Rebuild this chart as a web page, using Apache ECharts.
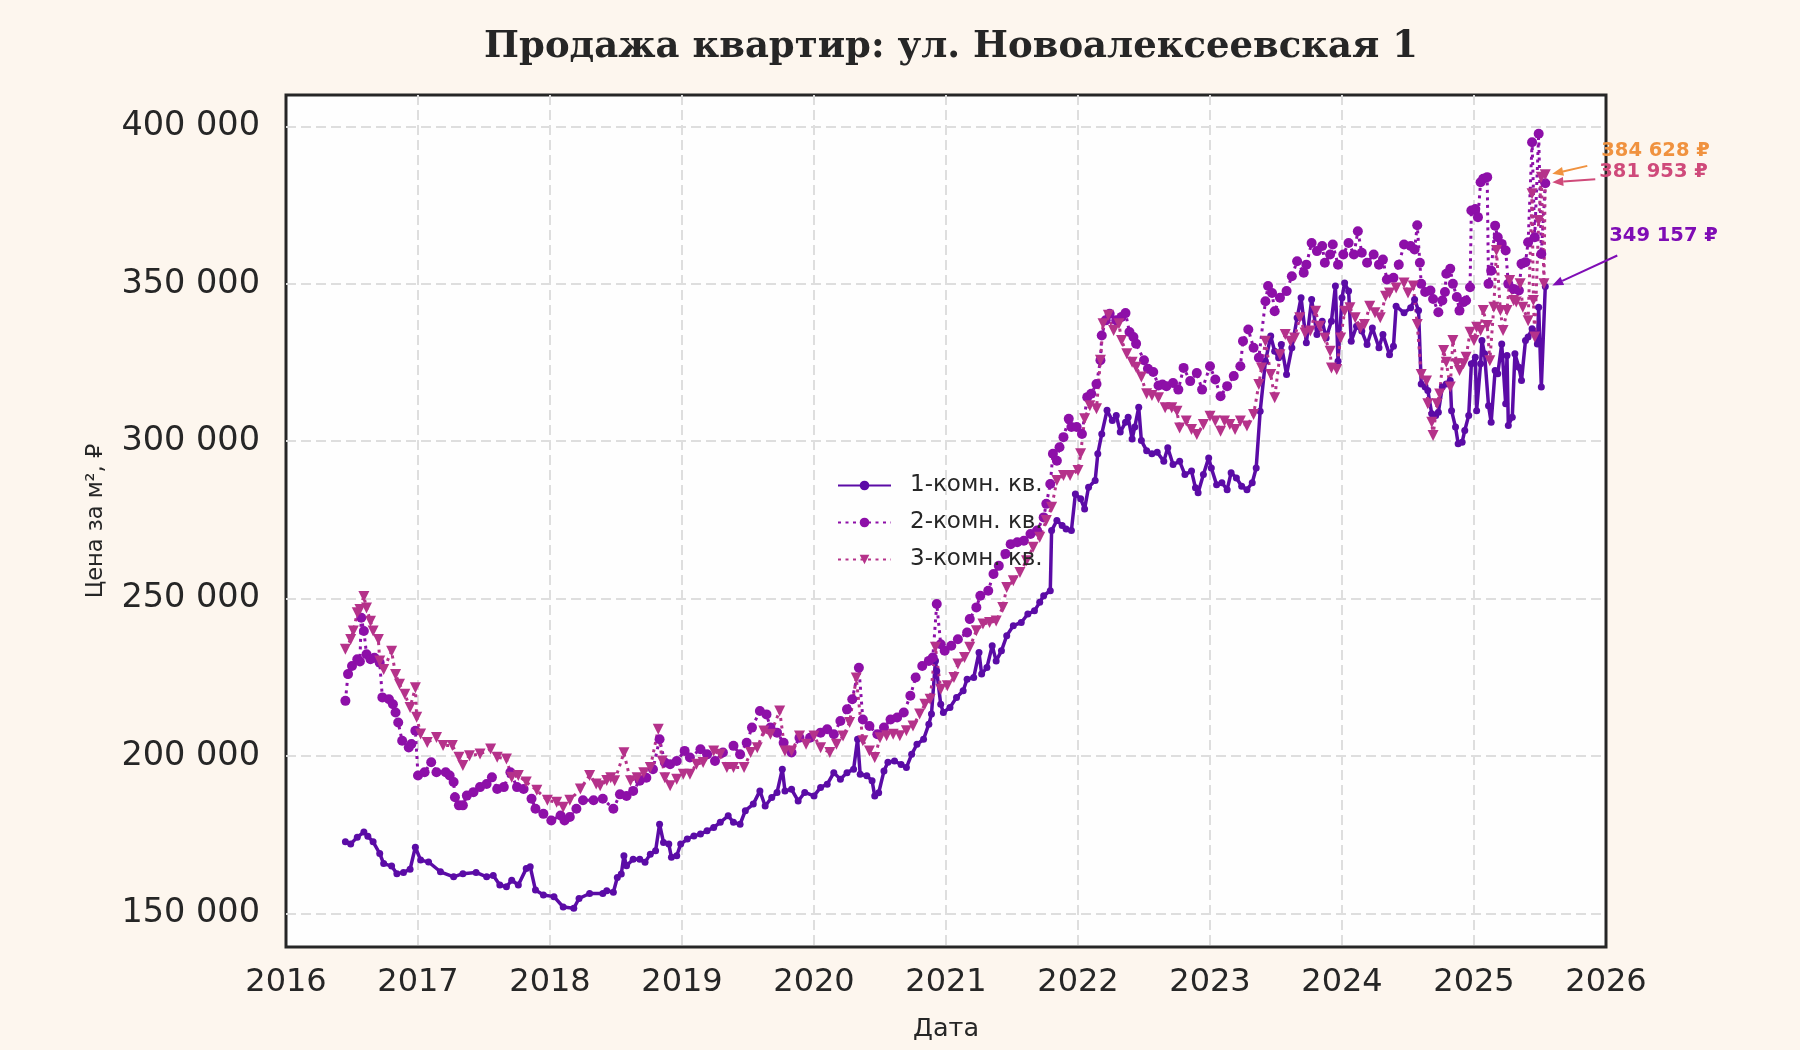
<!DOCTYPE html>
<html>
<head>
<meta charset="utf-8">
<script src="https://cdn.jsdelivr.net/npm/echarts@6/dist/echarts.min.js"></script>
<style>
html,body{margin:0;padding:0;background:#fdf6ee;}
#chart{width:1800px;height:1050px;}
</style>
</head>
<body>
<div id="chart"></div>
<script>
// даты (доля года) и цены за м² по типам квартир
var yearsOne=[2016.45,2016.49,2016.54,2016.59,2016.62,2016.66,2016.71,2016.74,2016.80,2016.84,2016.89,2016.94,2016.98,2017.02,2017.08,2017.17,2017.27,2017.34,2017.44,2017.52,2017.57,2017.62,2017.67,2017.71,2017.76,2017.82,2017.85,2017.89,2017.95,2018.03,2018.10,2018.18,2018.22,2018.30,2018.40,2018.43,2018.48,2018.51,2018.54,2018.56,2018.58,2018.63,2018.68,2018.72,2018.76,2018.80,2018.83,2018.86,2018.90,2018.92,2018.96,2018.99,2019.04,2019.09,2019.14,2019.19,2019.24,2019.29,2019.35,2019.39,2019.44,2019.48,2019.54,2019.59,2019.63,2019.68,2019.72,2019.76,2019.78,2019.83,2019.88,2019.93,2020.00,2020.05,2020.10,2020.15,2020.20,2020.25,2020.30,2020.33,2020.35,2020.40,2020.44,2020.46,2020.49,2020.53,2020.56,2020.61,2020.66,2020.70,2020.74,2020.78,2020.83,2020.87,2020.89,2020.92,2020.93,2020.96,2020.98,2021.03,2021.08,2021.13,2021.16,2021.21,2021.25,2021.27,2021.31,2021.35,2021.38,2021.42,2021.46,2021.51,2021.57,2021.62,2021.67,2021.71,2021.74,2021.79,2021.80,2021.84,2021.88,2021.91,2021.95,2021.98,2022.02,2022.05,2022.08,2022.13,2022.15,2022.18,2022.22,2022.26,2022.29,2022.32,2022.36,2022.38,2022.41,2022.43,2022.46,2022.48,2022.52,2022.56,2022.60,2022.65,2022.68,2022.72,2022.77,2022.81,2022.86,2022.89,2022.91,2022.95,2022.99,2023.01,2023.05,2023.09,2023.13,2023.16,2023.20,2023.24,2023.28,2023.32,2023.35,2023.38,2023.42,2023.46,2023.49,2023.52,2023.54,2023.58,2023.62,2023.66,2023.69,2023.73,2023.77,2023.81,2023.85,2023.88,2023.92,2023.95,2023.97,2024.00,2024.02,2024.05,2024.07,2024.11,2024.15,2024.19,2024.23,2024.28,2024.31,2024.36,2024.39,2024.41,2024.47,2024.52,2024.55,2024.58,2024.60,2024.63,2024.65,2024.68,2024.71,2024.73,2024.76,2024.79,2024.82,2024.83,2024.86,2024.88,2024.91,2024.93,2024.96,2024.98,2025.01,2025.02,2025.05,2025.06,2025.08,2025.11,2025.13,2025.16,2025.18,2025.21,2025.24,2025.25,2025.26,2025.29,2025.31,2025.34,2025.36,2025.39,2025.41,2025.44,2025.46,2025.48,2025.49,2025.51,2025.54];
var priceOne=[172700,172000,174200,175800,174500,172700,169000,165800,165000,162600,163000,164000,171000,166900,166300,163200,161600,162600,163000,161600,162000,159000,158400,160500,159000,164200,164800,157400,155800,155300,152000,151600,154700,156300,156300,157200,156700,161400,162500,168300,165100,167200,167200,166200,168800,169900,178300,172500,172000,167800,168300,172000,173600,174600,175200,176200,177300,178900,181000,178900,178300,182600,184700,188900,184100,186800,188400,195800,188900,189400,185700,188400,187300,190000,191000,194700,192600,194700,195800,205300,194200,193700,192100,187300,188300,195200,198000,198400,197300,196300,200500,203700,205300,210100,213300,230200,227000,216400,213800,215400,218600,220700,224400,224900,232900,226000,228100,235000,230200,233400,238200,241400,242400,245100,246100,248800,250900,252500,271600,274800,273200,272100,271600,283200,281700,278500,285400,287500,296000,302300,309800,306600,308200,302900,306000,307600,300700,304500,310800,300200,297000,296000,296500,293600,297900,292600,293600,289400,290500,285200,283600,289400,294700,291500,286200,286800,284600,290000,288300,285700,284600,286800,291500,309500,325400,333400,328600,326500,330700,321200,329700,339200,345600,331300,345000,333900,338100,332800,338100,349300,325400,345600,350300,347700,331800,336500,335000,330700,336000,329700,333900,327500,330200,342900,340800,342400,345000,341500,318200,317200,316100,308700,308200,309200,317200,318200,319300,309700,304500,299200,299700,303400,308200,324600,326700,309700,324600,332000,327800,311300,306000,322500,321400,330900,311900,327200,305000,307600,327800,323500,319300,332000,333100,335700,334100,330900,342600,317200,349157];

var yearsTwo=[2016.45,2016.47,2016.50,2016.54,2016.56,2016.57,2016.59,2016.61,2016.64,2016.67,2016.71,2016.73,2016.78,2016.81,2016.83,2016.85,2016.88,2016.93,2016.95,2016.98,2017.00,2017.05,2017.10,2017.14,2017.21,2017.24,2017.27,2017.28,2017.31,2017.34,2017.37,2017.42,2017.47,2017.52,2017.56,2017.60,2017.65,2017.70,2017.75,2017.80,2017.86,2017.89,2017.95,2018.01,2018.08,2018.11,2018.15,2018.20,2018.25,2018.33,2018.40,2018.48,2018.53,2018.58,2018.63,2018.68,2018.73,2018.78,2018.83,2018.87,2018.91,2018.96,2019.02,2019.06,2019.14,2019.19,2019.25,2019.31,2019.39,2019.44,2019.49,2019.53,2019.59,2019.64,2019.67,2019.72,2019.77,2019.83,2019.89,2019.97,2020.05,2020.10,2020.15,2020.20,2020.25,2020.29,2020.34,2020.37,2020.42,2020.48,2020.53,2020.58,2020.63,2020.68,2020.73,2020.77,2020.82,2020.87,2020.90,2020.93,2020.96,2020.99,2021.04,2021.09,2021.16,2021.18,2021.23,2021.26,2021.32,2021.36,2021.40,2021.45,2021.49,2021.54,2021.59,2021.64,2021.69,2021.74,2021.76,2021.79,2021.81,2021.84,2021.86,2021.89,2021.93,2021.95,2021.99,2022.03,2022.07,2022.10,2022.14,2022.17,2022.18,2022.21,2022.24,2022.29,2022.33,2022.36,2022.39,2022.42,2022.44,2022.50,2022.53,2022.57,2022.61,2022.64,2022.67,2022.72,2022.76,2022.80,2022.85,2022.90,2022.94,2023.00,2023.04,2023.08,2023.13,2023.18,2023.23,2023.25,2023.29,2023.33,2023.37,2023.42,2023.44,2023.47,2023.49,2023.53,2023.58,2023.62,2023.66,2023.71,2023.73,2023.77,2023.81,2023.85,2023.87,2023.91,2023.93,2023.97,2024.01,2024.05,2024.09,2024.12,2024.15,2024.19,2024.24,2024.28,2024.31,2024.34,2024.39,2024.43,2024.47,2024.52,2024.55,2024.57,2024.59,2024.60,2024.63,2024.67,2024.69,2024.73,2024.76,2024.78,2024.79,2024.82,2024.84,2024.87,2024.89,2024.92,2024.94,2024.97,2024.98,2025.01,2025.03,2025.05,2025.07,2025.10,2025.11,2025.13,2025.16,2025.18,2025.21,2025.24,2025.26,2025.30,2025.34,2025.36,2025.39,2025.41,2025.44,2025.46,2025.49,2025.51,2025.54];
var priceTwo=[217500,226000,228600,230700,230000,243900,239700,232300,230700,231200,229600,218600,218000,216400,213800,210600,204800,202700,203800,208000,193800,194800,198000,194800,194800,193800,191700,186900,184300,184300,187400,188500,190100,191100,193200,189500,190100,194800,190100,189500,186400,183200,181600,179500,181100,179500,180600,183200,185900,185900,186400,183200,187800,187300,188900,192100,193100,195800,205300,197900,197400,198400,201600,199500,202100,200500,198400,201100,203200,200500,204200,209000,214300,213200,209000,207400,204200,201100,205800,205800,207400,208500,206900,211100,214800,218000,228000,211600,209500,206900,209000,211600,212200,213800,219100,224900,228600,230200,231300,248300,235500,233400,235000,237100,239200,243500,247200,250900,252500,257800,260400,264200,267300,267900,268400,270500,271600,275800,280100,286400,296000,293800,298100,301300,307100,304500,304500,302300,314000,315100,318200,325700,333600,338400,340500,338400,339500,340700,334700,333100,331000,325700,323000,322000,317700,318000,317500,318500,316400,323300,319100,321700,316400,323800,319600,314300,317500,320700,323800,331800,335500,329700,326500,344500,349300,347100,341300,345600,347700,352400,357200,353500,356100,363000,360400,362000,356700,359300,362500,356100,359300,363000,359300,366700,359900,356700,359300,356100,357700,351400,351900,356100,362500,362000,360900,368600,356700,350000,347400,347900,345200,341000,344700,347400,353200,354800,350000,345800,341500,344200,344700,348900,373300,373800,371200,382300,383400,383900,350000,354200,368500,364800,362700,360600,350000,348400,347900,356400,356900,363200,395000,364800,397700,359500,381953];

var yearsThree=[2016.45,2016.49,2016.51,2016.54,2016.56,2016.59,2016.61,2016.64,2016.66,2016.70,2016.71,2016.74,2016.80,2016.83,2016.86,2016.90,2016.94,2016.98,2016.99,2017.02,2017.07,2017.14,2017.19,2017.26,2017.31,2017.34,2017.39,2017.47,2017.55,2017.60,2017.67,2017.71,2017.76,2017.82,2017.90,2017.98,2018.05,2018.10,2018.15,2018.23,2018.30,2018.35,2018.38,2018.43,2018.46,2018.49,2018.56,2018.61,2018.66,2018.71,2018.76,2018.82,2018.85,2018.87,2018.91,2018.96,2019.01,2019.06,2019.11,2019.16,2019.24,2019.29,2019.34,2019.39,2019.47,2019.52,2019.57,2019.62,2019.67,2019.74,2019.78,2019.83,2019.89,2019.94,2020.00,2020.05,2020.12,2020.17,2020.22,2020.27,2020.32,2020.37,2020.42,2020.46,2020.50,2020.55,2020.60,2020.65,2020.70,2020.75,2020.80,2020.84,2020.88,2020.92,2020.96,2021.01,2021.06,2021.09,2021.14,2021.18,2021.23,2021.28,2021.33,2021.38,2021.43,2021.46,2021.51,2021.56,2021.61,2021.66,2021.71,2021.76,2021.80,2021.84,2021.89,2021.94,2022.00,2022.02,2022.05,2022.09,2022.14,2022.17,2022.19,2022.23,2022.27,2022.31,2022.33,2022.37,2022.41,2022.44,2022.48,2022.52,2022.56,2022.61,2022.66,2022.71,2022.75,2022.77,2022.82,2022.86,2022.90,2022.95,2023.00,2023.04,2023.08,2023.11,2023.15,2023.19,2023.23,2023.28,2023.33,2023.37,2023.39,2023.42,2023.46,2023.49,2023.53,2023.57,2023.61,2023.64,2023.68,2023.72,2023.76,2023.80,2023.83,2023.87,2023.91,2023.92,2023.96,2023.99,2024.02,2024.06,2024.10,2024.14,2024.17,2024.21,2024.25,2024.29,2024.33,2024.36,2024.41,2024.47,2024.50,2024.54,2024.57,2024.60,2024.64,2024.65,2024.68,2024.69,2024.72,2024.74,2024.77,2024.79,2024.82,2024.84,2024.87,2024.89,2024.92,2024.94,2024.97,2025.00,2025.02,2025.05,2025.07,2025.10,2025.12,2025.15,2025.17,2025.20,2025.22,2025.25,2025.27,2025.30,2025.32,2025.35,2025.37,2025.41,2025.44,2025.45,2025.46,2025.49,2025.51,2025.53,2025.54];
var priceThree=[233900,237000,239700,245500,246500,250700,247000,242800,239700,237000,230200,227500,233300,225900,222800,219600,215400,221700,212300,207000,204300,205900,203300,203300,199600,197000,200100,200600,202200,199600,199000,193200,193800,191700,189100,185900,185300,183700,185900,189500,193800,191100,190500,192200,193100,192100,201000,192100,193100,194700,196300,208500,198400,193100,190500,192600,194200,194200,197400,197900,201600,200500,196300,196300,196300,201100,202600,207900,206900,214300,201600,201600,206300,203700,206300,202600,201100,203700,206300,210600,224800,204800,201600,199500,205800,206400,206900,206400,208000,209500,213300,216400,218000,234500,221200,222300,224900,229200,231300,234500,239800,241900,242400,242900,247200,253500,255700,258300,262000,266300,269500,274800,279000,287500,289100,289100,290700,296000,307100,311300,310300,325700,337300,340000,335200,337300,332000,327800,325100,323500,320400,315100,314500,313800,310600,310600,309500,304200,306400,303700,302100,305300,307900,306400,303200,306400,305300,303700,306400,304800,308500,318000,323300,331800,321200,313800,327500,333900,331800,332800,339200,334400,335000,341300,336500,332800,328600,323300,322800,332800,341300,342400,339200,336000,337100,342900,340800,339200,346100,347100,348700,350300,347100,349300,337100,321200,319100,311900,306000,301800,311900,315000,328800,325100,317200,332000,324600,322500,324600,326700,334600,332000,336200,335200,341500,336800,325600,342600,360600,341500,335200,341500,351100,344700,344200,350000,342600,338300,378600,344700,333100,370100,383900,350000,384628];

var seriesNames=['1-комн. кв.','2-комн. кв.','3-комн. кв.'];
var yearTicks=[2016,2026];

var INK='#262626';
var FONT='DejaVu Sans';
var colors=['#5b0ba6','#8d0fa8','#b5328a'];
var noteColors=['#7f0db5','#cf4a7a','#f0923f'];

function zip(xs,ys){
	var out=[];
	for(var i=0;i<xs.length;i++){
		out.push([xs[i],ys[i]]);
	}
	return out;
}
function spaced(v){
	return String(Math.round(v)).replace(/\B(?=(\d{3})+(?!\d))/g,' ');
}

var allPrices=priceOne.concat(priceTwo,priceThree);
var lo=Math.min.apply(null,allPrices);
var hi=Math.max.apply(null,allPrices);
var pad=(hi-lo)*0.05;

var chart=echarts.init(document.getElementById('chart'),null,{renderer:'canvas'});

var gridLine={show:true,showMinLine:false,showMaxLine:false,lineStyle:{color:'#dedede',width:2,type:[10,5]}};

var option={
	backgroundColor:'#fdf6ee',
	animation:false,
	title:{
		text:'Продажа квартир: ул. Новоалексеевская 1',
		left:946,
		textAlign:'center',
		top:24,
		textStyle:{fontFamily:'DejaVu Serif',fontWeight:'bold',fontSize:37,color:INK}
	},
	grid:{
		left:286,top:95,right:194,bottom:103,
		show:true,
		backgroundColor:'#fefefe',
		borderColor:INK,
		borderWidth:3
	},
	legend:{
		orient:'vertical',
		left:837,
		top:474,
		padding:0,
		itemWidth:53,
		itemHeight:12,
		itemGap:14,
		textStyle:{fontFamily:FONT,fontSize:23,color:INK,padding:[0,0,0,14]},
		data:seriesNames
	},
	xAxis:{
		type:'value',
		min:yearTicks[0],
		max:yearTicks[1],
		interval:1,
		name:'Дата',
		nameLocation:'middle',
		nameGap:69,
		nameTextStyle:{fontFamily:FONT,fontSize:25.5,color:INK},
		axisLine:{show:false},
		axisTick:{show:false},
		axisLabel:{fontFamily:FONT,fontSize:32,color:INK,margin:20,formatter:function(v){return String(v);}},
		splitLine:gridLine
	},
	yAxis:{
		type:'value',
		min:lo-pad,
		max:hi+pad,
		splitNumber:5,
		name:'Цена за м², ₽',
		nameLocation:'middle',
		nameGap:178,
		nameTextStyle:{fontFamily:FONT,fontSize:22.5,color:INK},
		axisLine:{show:false},
		axisTick:{show:false},
		axisLabel:{
			fontFamily:FONT,fontSize:33.5,color:INK,margin:26,
			showMinLabel:false,showMaxLabel:false,
			formatter:function(v){return v%50000===0?spaced(v):'';}
		},
		splitLine:gridLine
	},
	series:[
		{
			name:seriesNames[0],type:'line',data:zip(yearsOne,priceOne),
			color:colors[0],
			showAllSymbol:true,symbol:'circle',symbolSize:7,
			lineStyle:{width:3.5,color:colors[0]},
			itemStyle:{color:colors[0]}
		},
		{
			name:seriesNames[1],type:'line',data:zip(yearsTwo,priceTwo),
			color:colors[1],
			showAllSymbol:true,symbol:'circle',symbolSize:10,
			lineStyle:{width:3,type:[3,4.5],color:colors[1]},
			itemStyle:{color:colors[1]}
		},
		{
			name:seriesNames[2],type:'line',data:zip(yearsThree,priceThree),
			color:colors[2],
			showAllSymbol:true,symbol:'triangle',symbolRotate:180,symbolSize:11,
			lineStyle:{width:3,type:[3,4.5],color:colors[2]},
			itemStyle:{color:colors[2]}
		}
	]
};
chart.setOption(option);

// подписи последних значений со стрелками
var lastPoints=[
	[yearsOne[yearsOne.length-1],priceOne[priceOne.length-1]],
	[yearsTwo[yearsTwo.length-1],priceTwo[priceTwo.length-1]],
	[yearsThree[yearsThree.length-1],priceThree[priceThree.length-1]]
];
// смещения текста и начала стрелки от точки, px
var shifts=[
	{tx:64,ty:-51,sx:72,sy:-31},
	{tx:54,ty:-11,sx:50,sy:-4},
	{tx:56,ty:-24,sx:42,sy:-9}
];
var elements=[];
for(var i=0;i<lastPoints.length;i++){
	var p=chart.convertToPixel({gridIndex:0},lastPoints[i]);
	var s=shifts[i];
	var c=noteColors[i];
	var x0=p[0]+s.sx,y0=p[1]+s.sy;
	var x1=p[0]+7,y1=p[1]-1;
	var ang=Math.atan2(y1-y0,x1-x0);
	var hl=11,hw=4.5;
	var bx=x1-hl*Math.cos(ang),by=y1-hl*Math.sin(ang);
	elements.push({
		type:'line',z:100,
		shape:{x1:x0,y1:y0,x2:bx,y2:by},
		style:{stroke:c,lineWidth:2}
	});
	elements.push({
		type:'polygon',z:100,
		shape:{points:[[x1,y1],[bx-hw*Math.sin(ang),by+hw*Math.cos(ang)],[bx+hw*Math.sin(ang),by-hw*Math.cos(ang)]]},
		style:{fill:c}
	});
	elements.push({
		type:'text',z:101,
		x:p[0]+s.tx,y:p[1]+s.ty,
		style:{text:spaced(lastPoints[i][1])+' ₽',fill:c,font:'bold 19.5px "DejaVu Sans"',textAlign:'left',textVerticalAlign:'middle'}
	});
}
chart.setOption({graphic:{elements:elements}});
</script>
</body>
</html>
